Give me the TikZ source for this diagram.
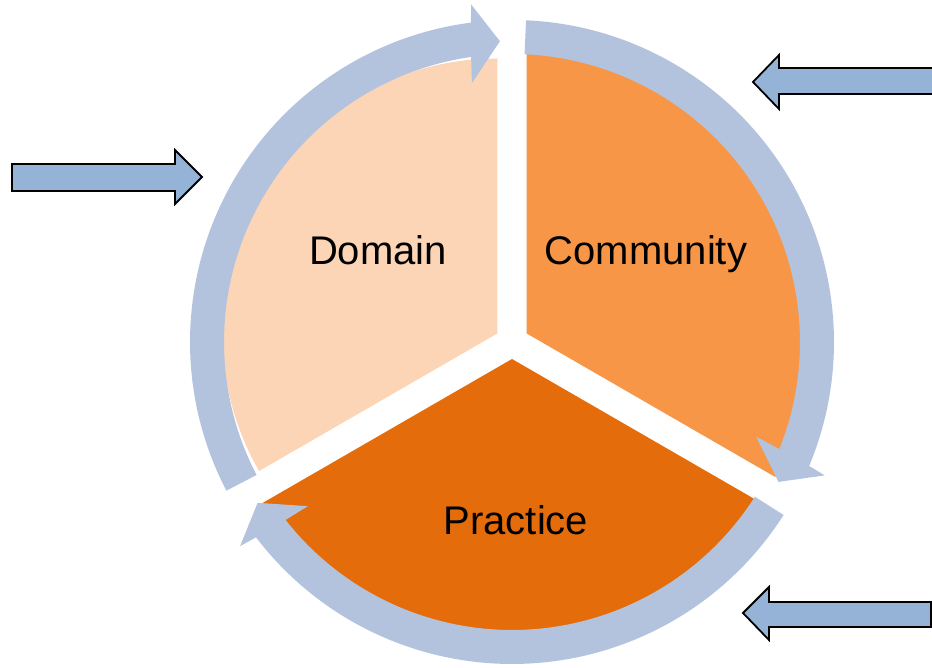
\documentclass[tikz,border=0pt]{standalone}
\usepackage{fontspec}
\setmainfont{Liberation Sans}
\definecolor{domc}{HTML}{FBD5B5}
\definecolor{comc}{HTML}{F79646}
\definecolor{prac}{HTML}{E46C0A}
\definecolor{ringc}{HTML}{B3C3DE}
\definecolor{blkc}{HTML}{95B3D7}
\tikzset{ring/.style={fill=ringc}}
\tikzset{blk/.style={draw=black, fill=blkc, line width=0.9pt, line join=miter}}
\tikzset{lbl/.style={anchor=base, inner sep=0pt, font=\fontsize{20}{24}\selectfont}}

% one piece of the ring: #1 start angle, #2 angle of the tip
\newcommand{\cycpiece}[2]{
\fill[ring] (#1:322) arc[start angle=#1, end angle={#2+5.04}, radius=322]
 -- ({#2+4.6}:340) -- (#2:301) -- ({#2+6.5}:262) -- ({#2+5.87}:288)
 arc[start angle={#2+5.87}, end angle=#1, radius=288] -- cycle;
}

\begin{document}
\begin{tikzpicture}[x=0.5pt, y=0.5pt]
\useasboundingbox (0,0) rectangle (932,668);
\clip (0,0) rectangle (932,668);

\begin{scope}[shift={(512,326)}]
\fill[domc] (150:17) -- ++(90:275) arc[start angle=90, end angle=210, radius=275] -- cycle;
\fill[comc] (30:17) -- ++(-30:287) arc[start angle=-30, end angle=90, radius=287] -- cycle;
\fill[prac] (270:17) -- ++(210:289) arc[start angle=210, end angle=330, radius=289] -- cycle;

\cycpiece{207.5}{92.3}
\cycpiece{87.5}{-27.7}
\cycpiece{-32.5}{-147.7}
\end{scope}

\node[lbl] (dom) at (378,403) {Domain};
\node[lbl] (com) at (646,403) {Community};
\node[lbl] (pra) at (516,133) {Practice};

\draw[blk] (12,477) -- (175,477) -- (175,464) -- (202,491) -- (175,518)
 -- (175,504) -- (12,504) -- cycle;
\draw[blk] (945,574) -- (779,574) -- (779,559) -- (753,586) -- (779,613)
 -- (779,600) -- (945,600);
\draw[blk] (931,41) -- (769,41) -- (769,28) -- (743,55) -- (769,81)
 -- (769,66) -- (931,66) -- cycle;
\end{tikzpicture}
\end{document}
